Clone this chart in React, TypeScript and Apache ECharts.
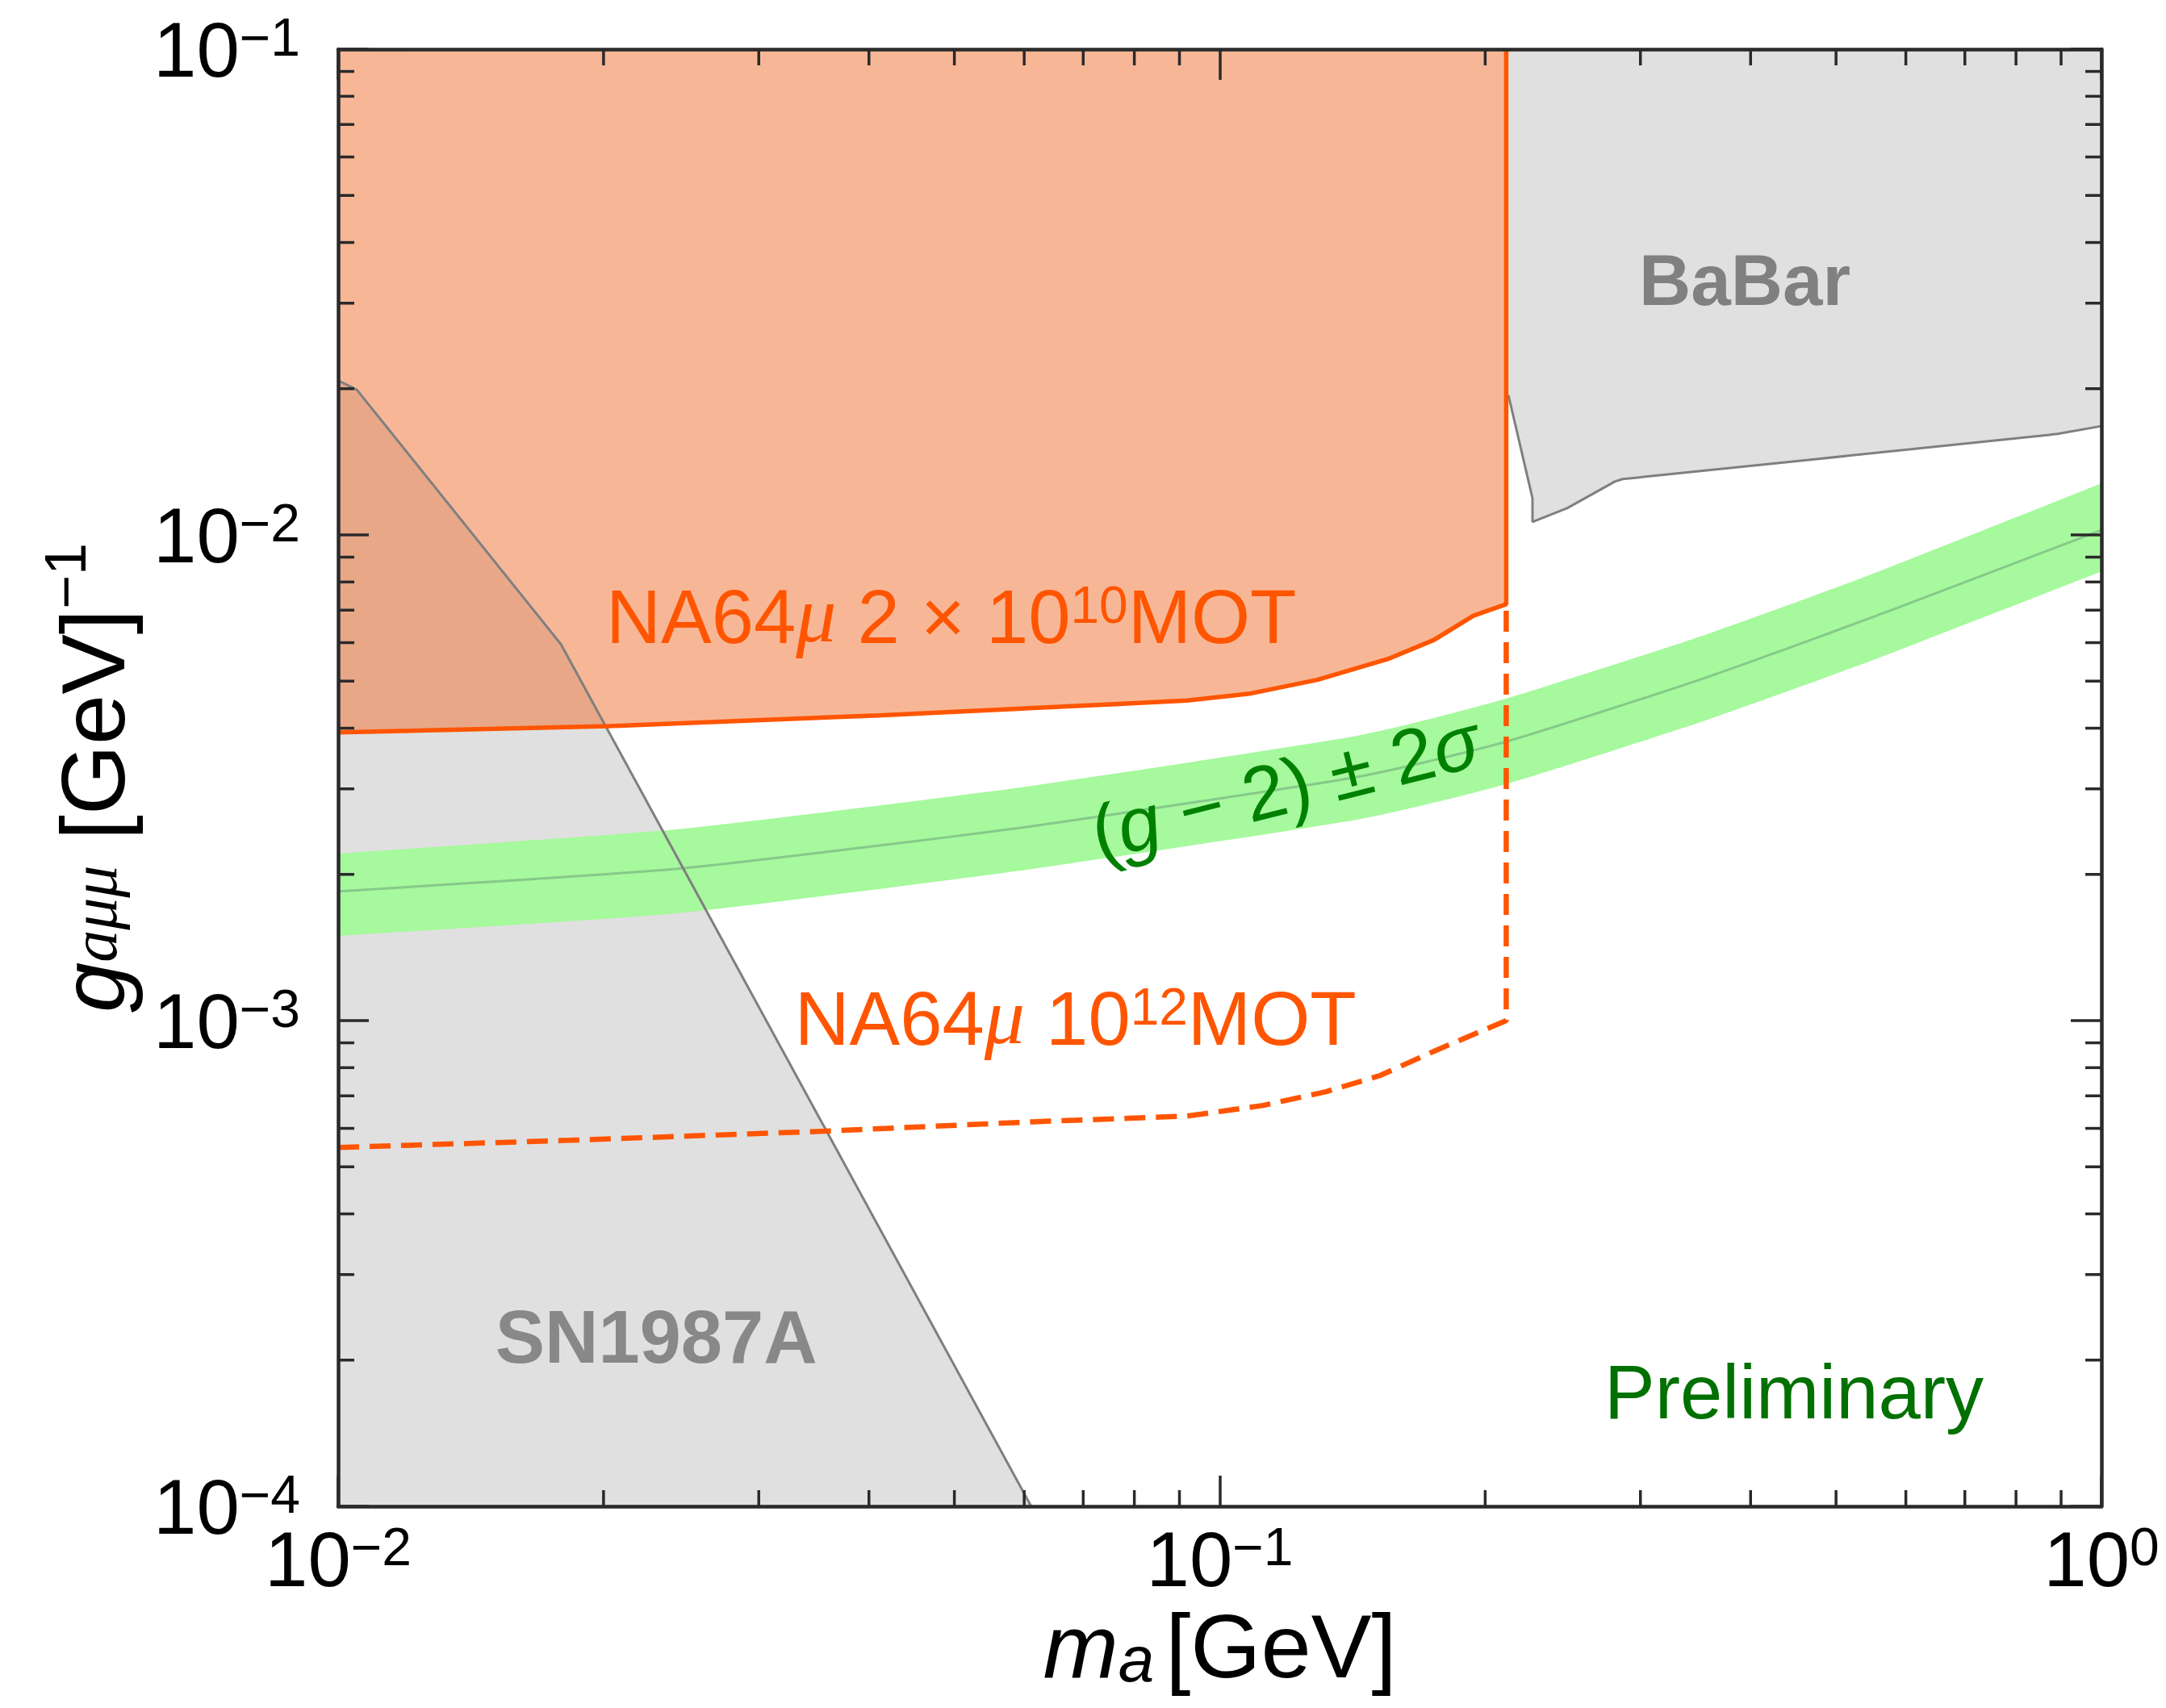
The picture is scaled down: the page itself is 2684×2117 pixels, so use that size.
import { useEffect, useRef } from "react";
import * as echarts from "echarts";

// Axis ranges
const M_MIN = 0.01;
const M_MAX = 1;
const G_MIN = 1e-4;
const G_MAX = 0.1;

// NA64μ 2×10^10 MOT exclusion boundary (m_a [GeV], g_aμμ [GeV^-1])
const na64Mass = [0.01, 0.0203, 0.041, 0.0752, 0.0918, 0.108, 0.129, 0.155, 0.175, 0.194, 0.2113, 0.2113];
const na64Coupling = [3.92e-3, 4.04e-3, 4.25e-3, 4.48e-3, 4.56e-3, 4.71e-3, 5.03e-3, 5.55e-3, 6.08e-3, 6.82e-3, 7.2e-3, 0.1];

// NA64μ 10^12 MOT projected sensitivity
const projMass = [0.01, 0.0183, 0.0356, 0.0614, 0.0918, 0.112, 0.132, 0.152, 0.175, 0.2113, 0.2113];
const projCoupling = [5.48e-4, 5.67e-4, 5.92e-4, 6.19e-4, 6.36e-4, 6.69e-4, 7.14e-4, 7.71e-4, 8.65e-4, 1.0e-3, 7.2e-3];

// SN1987A bound
const snMass = [0.01, 0.0105, 0.0179, 0.0611];
const snCoupling = [0.0208, 0.0199, 5.95e-3, 1e-4];

// BaBar bound
const babarMass = [0.2125, 0.2263, 0.2263, 0.2477, 0.2806, 0.2864, 0.4634, 0.892, 1.0];
const babarCoupling = [0.0194, 0.0119, 0.01064, 0.01135, 0.01288, 0.01303, 0.01426, 0.01614, 0.01675];

// (g-2)_μ ± 2σ band
const gm2Mass = [0.01, 0.0242, 0.0585, 0.1415, 0.211, 0.35, 0.544, 1.0];
const gm2Central = [1.845e-3, 2.053e-3, 2.485e-3, 3.162e-3, 3.75e-3, 5.03e-3, 6.72e-3, 1.023e-2];
const gm2Upper = [2.208e-3, 2.476e-3, 3.009e-3, 3.843e-3, 4.6e-3, 6.17e-3, 8.25e-3, 1.277e-2];
const gm2Lower = [1.494e-3, 1.663e-3, 2.029e-3, 2.583e-3, 3.067e-3, 4.11e-3, 5.48e-3, 8.41e-3];

// Minor tick positions (2..9 × 10^n)
const minorSteps = [2, 3, 4, 5, 6, 7, 8, 9];
const massDecades = [0.01, 0.1];
const couplingDecades = [1e-4, 1e-3, 1e-2];
const massMinorTicks = massDecades.flatMap((d) => minorSteps.map((k) => k * d));
const couplingMinorTicks = couplingDecades.flatMap((d) => minorSteps.map((k) => k * d));

const SANS = "Liberation Sans, Arial, Helvetica, sans-serif";
const SERIF = "Liberation Serif, Times New Roman, serif";

const ORANGE = "#ff5500";
const GRAY_FILL = "#e0e0e0";
const GRAY_LINE = "#7f7f7f";
const FRAME = "#2a2a2a";

const zip = (xs: number[], ys: number[]) => xs.map((x, i) => [x, ys[i]]);

// Smooth an open pixel-space polyline with a cardinal spline so the band edges have no corners
function splinePixels(pts: number[][], steps = 12, tension = 0.5): number[][] {
  const out: number[][] = [];
  const n = pts.length;
  const k = (1 - tension) / 2;
  for (let i = 0; i < n - 1; i++) {
    const p0 = pts[Math.max(0, i - 1)];
    const p1 = pts[i];
    const p2 = pts[i + 1];
    const p3 = pts[Math.min(n - 1, i + 2)];
    const m1 = [(p2[0] - p0[0]) * k, (p2[1] - p0[1]) * k];
    const m2 = [(p3[0] - p1[0]) * k, (p3[1] - p1[1]) * k];
    for (let s = 0; s < steps; s++) {
      const t = s / steps;
      const t2 = t * t;
      const t3 = t2 * t;
      const h00 = 2 * t3 - 3 * t2 + 1;
      const h10 = t3 - 2 * t2 + t;
      const h01 = -2 * t3 + 3 * t2;
      const h11 = t3 - t2;
      out.push([
        h00 * p1[0] + h10 * m1[0] + h01 * p2[0] + h11 * m2[0],
        h00 * p1[1] + h10 * m1[1] + h01 * p2[1] + h11 * m2[1],
      ]);
    }
  }
  out.push(pts[n - 1]);
  return out;
}

// Filled region drawn as one polygon through the cartesian scales
function regionSeries(name: string, points: number[][], fill: string, z: number) {
  return {
    type: "custom",
    name,
    coordinateSystem: "cartesian2d",
    xAxisIndex: 0,
    yAxisIndex: 0,
    silent: true,
    z,
    data: points,
    renderItem: (params: any, api: any) => {
      if (params.dataIndexInside !== 0) return null;
      const pts: number[][] = [];
      for (let i = 0; i < params.dataInsideLength; i++) {
        pts.push(api.coord([api.value(0, i), api.value(1, i)]));
      }
      return { type: "polygon", shape: { points: pts }, style: { fill }, silent: true };
    },
  };
}

// (g-2) band: rows of [mass, lower, central, upper]
const gm2Series = {
  type: "custom",
  name: "(g-2) ± 2σ",
  coordinateSystem: "cartesian2d",
  xAxisIndex: 0,
  yAxisIndex: 0,
  silent: true,
  z: 3,
  dimensions: ["mass", "lower", "central", "upper"],
  encode: { x: 0, y: [1, 2, 3] },
  data: gm2Mass.map((m, i) => [m, gm2Lower[i], gm2Central[i], gm2Upper[i]]),
  renderItem: (params: any, api: any) => {
    if (params.dataIndexInside !== 0) return null;
    const up: number[][] = [];
    const lo: number[][] = [];
    const mid: number[][] = [];
    for (let i = 0; i < params.dataInsideLength; i++) {
      const m = api.value(0, i);
      lo.push(api.coord([m, api.value(1, i)]));
      mid.push(api.coord([m, api.value(2, i)]));
      up.push(api.coord([m, api.value(3, i)]));
    }
    const upS = splinePixels(up);
    const loS = splinePixels(lo).reverse();
    const midS = splinePixels(mid);
    const cs = params.coordSys;
    return {
      type: "group",
      clipPath: { type: "rect", shape: { x: cs.x, y: cs.y, width: cs.width, height: cs.height } },
      children: [
        { type: "polygon", shape: { points: [...upS, ...loS] }, style: { fill: "#a6f99d" } },
        { type: "polyline", shape: { points: midS }, style: { stroke: "#86c98a", lineWidth: 3, fill: "none" } },
      ],
    };
  },
};

function lineSeries(name: string, points: number[][], lineStyle: any, z: number) {
  return {
    type: "line",
    name,
    xAxisIndex: 0,
    yAxisIndex: 0,
    data: points,
    showSymbol: false,
    symbol: "none",
    silent: true,
    z,
    lineStyle,
  };
}

const powerLabel = (v: number) => {
  const e = Math.round(Math.log10(v));
  return `{b|10}{s|${e < 0 ? "−" : ""}${Math.abs(e)}}`;
};

const tickRich = {
  b: { fontSize: 96, lineHeight: 96, padding: [11, 0, 0, 0], verticalAlign: "bottom", color: "#000", fontFamily: SANS },
  s: { fontSize: 66, lineHeight: 66, verticalAlign: "top", color: "#000", fontFamily: SANS },
};

const na64Rich = {
  t: { fontSize: 94, lineHeight: 94, padding: [10, 0, 0, 0], verticalAlign: "bottom", color: ORANGE, fontFamily: SANS },
  mu: { fontSize: 100, lineHeight: 94, padding: [10, 0, 0, 0], verticalAlign: "bottom", color: ORANGE, fontFamily: SERIF, fontStyle: "italic" },
  s: { fontSize: 64, lineHeight: 64, verticalAlign: "top", color: ORANGE, fontFamily: SANS },
};

// Text annotations anchored in data coordinates
const annotations = [
  {
    mass: 0.394,
    coupling: 0.0335,
    text: "{b|BaBar}",
    rich: { b: { fontSize: 89, fontWeight: "bold", color: "#808080", fontFamily: SANS } },
    rotate: 0,
  },
  {
    mass: 0.02295,
    coupling: 2.23e-4,
    text: "{b|SN1987A}",
    rich: { b: { fontSize: 92, fontWeight: "bold", color: "#888888", fontFamily: SANS } },
    rotate: 0,
  },
  {
    mass: 0.0496,
    coupling: 6.77e-3,
    text: "{t|NA64}{mu|μ}{t| 2 × 10}{s|10}{t|MOT}",
    rich: na64Rich,
    rotate: 0,
  },
  {
    mass: 0.0686,
    coupling: 1.008e-3,
    text: "{t|NA64}{mu|μ}{t| 10}{s|12}{t|MOT}",
    rich: na64Rich,
    rotate: 0,
  },
  {
    mass: 0.1187,
    coupling: 3.03e-3,
    text: "{t|(}{i|g}{t| − 2) ± 2}{i|σ}",
    rich: {
      t: { fontSize: 95, color: "#008000", fontFamily: SANS },
      i: { fontSize: 95, color: "#008000", fontFamily: SANS, fontStyle: "italic" },
    },
    rotate: 14,
  },
  {
    mass: 0.448,
    coupling: 1.72e-4,
    text: "{t|Preliminary}",
    rich: { t: { fontSize: 94, color: "#007000", fontFamily: SANS } },
    rotate: 0,
  },
];

function buildOption() {
  const snRegion = [...zip(snMass, snCoupling), [M_MIN, G_MIN]];
  const babarRegion = [...zip(babarMass, babarCoupling), [M_MAX, G_MAX], [babarMass[0], G_MAX]];
  const na64Region = [...zip(na64Mass, na64Coupling), [M_MIN, G_MAX]];

  const minorTickLen = 20;
  const massTickSeries = {
    type: "custom",
    name: "mass minor ticks",
    coordinateSystem: "cartesian2d",
    silent: true,
    z: 20,
    data: massMinorTicks.map((v) => [v, G_MIN]),
    renderItem: (params: any, api: any) => {
      const p = api.coord([api.value(0), G_MIN]);
      const cs = params.coordSys;
      const style = { stroke: FRAME, lineWidth: 3.5 };
      return {
        type: "group",
        children: [
          { type: "line", shape: { x1: p[0], y1: cs.y + cs.height, x2: p[0], y2: cs.y + cs.height - minorTickLen }, style },
          { type: "line", shape: { x1: p[0], y1: cs.y, x2: p[0], y2: cs.y + minorTickLen }, style },
        ],
      };
    },
  };
  const couplingTickSeries = {
    type: "custom",
    name: "coupling minor ticks",
    coordinateSystem: "cartesian2d",
    silent: true,
    z: 20,
    data: couplingMinorTicks.map((v) => [M_MIN, v]),
    renderItem: (params: any, api: any) => {
      const p = api.coord([M_MIN, api.value(1)]);
      const cs = params.coordSys;
      const style = { stroke: FRAME, lineWidth: 3.5 };
      return {
        type: "group",
        children: [
          { type: "line", shape: { x1: cs.x, y1: p[1], x2: cs.x + minorTickLen, y2: p[1] }, style },
          { type: "line", shape: { x1: cs.x + cs.width, y1: p[1], x2: cs.x + cs.width - minorTickLen, y2: p[1] }, style },
        ],
      };
    },
  };

  const axisCommon = {
    type: "log",
    logBase: 10,
    z: 20,
    axisLine: { show: true, lineStyle: { color: FRAME, width: 4.5 } },
    axisTick: { show: true, inside: true, length: 38, lineStyle: { color: FRAME, width: 3.5 } },
    splitLine: { show: false },
    minorTick: { show: false },
  };

  return {
    animation: false,
    backgroundColor: "#ffffff",
    textStyle: { fontFamily: SANS },
    grid: { left: 419, top: 61, right: 80, bottom: 250, show: false },
    xAxis: [
      {
        ...axisCommon,
        position: "bottom",
        min: M_MIN,
        max: M_MAX,
        axisLabel: { show: true, margin: 17, formatter: powerLabel, rich: tickRich, hideOverlap: false, showMinLabel: true, showMaxLabel: true },
        name: "{i|m}{sub|a}{t|[GeV]}",
        nameLocation: "middle",
        nameGap: 107,
        nameTextStyle: {
          rich: {
            i: { fontSize: 112, lineHeight: 112, padding: [0, 0, 6, 0], verticalAlign: "top", fontStyle: "italic", fontFamily: SANS, color: "#000" },
            sub: { fontSize: 80, lineHeight: 80, padding: [0, 14, 0, 0], verticalAlign: "bottom", fontStyle: "italic", fontFamily: SANS, color: "#000" },
            t: { fontSize: 112, lineHeight: 112, padding: [0, 0, 6, 0], verticalAlign: "top", fontFamily: SANS, color: "#000" },
          },
        },
      },
      {
        ...axisCommon,
        position: "top",
        min: M_MIN,
        max: M_MAX,
        axisLabel: { show: false },
      },
    ],
    yAxis: [
      {
        ...axisCommon,
        position: "left",
        min: G_MIN,
        max: G_MAX,
        axisLabel: { show: true, margin: 47, formatter: powerLabel, rich: tickRich, hideOverlap: false, showMinLabel: true, showMaxLabel: true },
        name: "{i|g}{sub|aμμ}{t| [GeV]}{sup|−1}",
        nameLocation: "middle",
        nameRotate: 90,
        nameGap: 246,
        nameTextStyle: {
          rich: {
            i: { fontSize: 112, lineHeight: 112, padding: [14, 0, 8, 0], verticalAlign: "top", fontStyle: "italic", fontFamily: SANS, color: "#000" },
            sub: { fontSize: 80, lineHeight: 80, verticalAlign: "bottom", fontStyle: "italic", fontFamily: SERIF, color: "#000" },
            t: { fontSize: 112, lineHeight: 112, padding: [14, 0, 8, 0], verticalAlign: "top", fontFamily: SANS, color: "#000" },
            sup: { fontSize: 72, lineHeight: 72, verticalAlign: "top", fontFamily: SANS, color: "#000" },
          },
        },
      },
      {
        ...axisCommon,
        position: "right",
        min: G_MIN,
        max: G_MAX,
        axisLabel: { show: false },
      },
    ],
    series: [
      regionSeries("SN1987A", snRegion, GRAY_FILL, 1),
      regionSeries("BaBar", babarRegion, GRAY_FILL, 1),
      regionSeries("NA64μ 2×10^10 MOT", na64Region, "rgba(240,117,55,0.52)", 2),
      gm2Series,
      lineSeries("SN1987A edge", zip(snMass, snCoupling), { color: GRAY_LINE, width: 3 }, 4),
      lineSeries("BaBar edge", zip(babarMass, babarCoupling), { color: GRAY_LINE, width: 3 }, 4),
      lineSeries("NA64μ 10^12 MOT", zip(projMass, projCoupling), { color: ORANGE, width: 6.5, type: [26, 13] }, 5),
      lineSeries("NA64μ 2×10^10 MOT edge", zip(na64Mass, na64Coupling), { color: ORANGE, width: 5.5 }, 5),
      massTickSeries,
      couplingTickSeries,
      {
        type: "scatter",
        name: "labels",
        xAxisIndex: 0,
        yAxisIndex: 0,
        silent: true,
        z: 30,
        symbolSize: 0,
        itemStyle: { opacity: 1 },
        data: annotations.map((a) => ({
          value: [a.mass, a.coupling],
          label: {
            show: true,
            position: "inside",
            opacity: 1,
            formatter: a.text,
            rich: a.rich,
            rotate: a.rotate,
          },
        })),
      },
    ],
  };
}

export default function App() {
  const ref = useRef<HTMLDivElement>(null);
  useEffect(() => {
    const chart = echarts.init(ref.current!, null, { renderer: "svg" });
    chart.setOption(buildOption() as any);
    return () => chart.dispose();
  }, []);
  return (
    <div
      ref={ref}
      style={{ position: "fixed", left: 0, top: 0, width: 2684, height: 2117, background: "#fff" }}
    />
  );
}
